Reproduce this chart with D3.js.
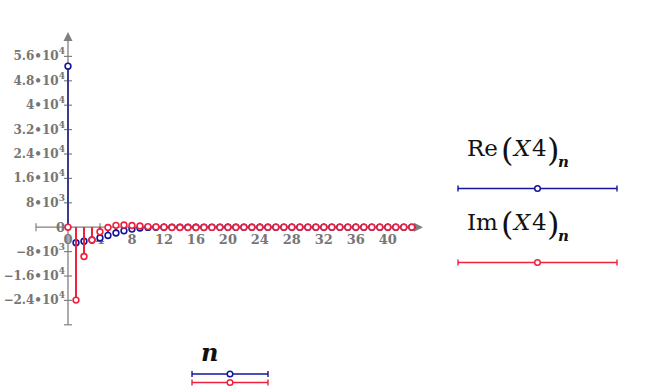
<!DOCTYPE html>
<html>
<head>
<meta charset="utf-8">
<script src="https://cdn.jsdelivr.net/npm/d3@7"></script>
<style>
  body { margin: 0; background: #fff; }
  svg { display: block; }
  .tick-label { font-family: "DejaVu Serif", serif; font-weight: bold; fill: #767676; }
  .math text { font-family: "DejaVu Serif", serif; fill: #111; }
</style>
</head>
<body>
<svg id="chart" width="652" height="390"></svg>
<script>
// sample index n = 0..43
const nValues = d3.range(0, 44);

// Re(X4)_n
const reValues = [52800, -5100, -4600, -4200, -3500, -2700, -1900, -1200, -600, -250,
  -60, 0, 0, 0, 0, 0, 0, 0, 0, 0, 0, 0, 0, 0, 0, 0, 0, 0, 0, 0,
  0, 0, 0, 0, 0, 0, 0, 0, 0, 0, 0, 0, 0, 0];

// Im(X4)_n
const imValues = [0, -23900, -9600, -4200, -1500, -100, 600, 700, 550, 400,
  200, 100, 0, -100, -100, -100, -100, -80, -60, -50, -40, -30, -20, -20, -10, -10, 0, 0, 0, 0,
  0, 0, 0, 0, 0, 0, 0, 0, 0, 0, 0, 0, 0, 0];

const yTicks = [-24000, -16000, -8000, 0, 8000, 16000, 24000, 32000, 40000, 48000, 56000];
const yTickText = ["−2.4•10|4", "−1.6•10|4", "−8•10|3", "0", "8•10|3", "1.6•10|4", "2.4•10|4",
  "3.2•10|4", "4•10|4", "4.8•10|4", "5.6•10|4"];
const xTicks = [0, 4, 8, 12, 16, 20, 24, 28, 32, 36, 40];

const blue = "#14149a";
const blueStem = "#3c3c8c";
const red = "#f0213c";
const gray = "#808080";

const svg = d3.select("#chart");

const x = d3.scaleLinear().domain([-4, 44.4]).range([36, 423]);
const y = d3.scaleLinear().domain([-32000, 64000]).range([324.8, 32]);

// axes
const axisG = svg.append("g");
axisG.append("line").attr("x1", x(-4)).attr("x2", x(44.4) - 6).attr("y1", y(0)).attr("y2", y(0))
  .attr("stroke", gray).attr("stroke-width", 1.3);
axisG.append("line").attr("x1", x(0)).attr("x2", x(0)).attr("y1", y(-32000)).attr("y2", y(64000) + 6)
  .attr("stroke", gray).attr("stroke-width", 1.3);
// arrows
axisG.append("path")
  .attr("d", `M${x(44.4)},${y(0)} l-9,-4.5 l0,9 Z`).attr("fill", gray);
axisG.append("path")
  .attr("d", `M${x(0)},${y(64000)} l-4.5,9 l9,0 Z`).attr("fill", gray);
// end ticks
axisG.append("line").attr("x1", x(-4)).attr("x2", x(-4)).attr("y1", y(0) - 4).attr("y2", y(0) + 4)
  .attr("stroke", gray).attr("stroke-width", 1.2);
axisG.append("line").attr("x1", x(0) - 4).attr("x2", x(0) + 4).attr("y1", y(-32000)).attr("y2", y(-32000))
  .attr("stroke", gray).attr("stroke-width", 1.2);

// y ticks + labels
yTicks.forEach((v, i) => {
  axisG.append("line").attr("x1", x(0) - 4).attr("x2", x(0) + 4).attr("y1", y(v)).attr("y2", y(v))
    .attr("stroke", gray).attr("stroke-width", 1.2);
  const parts = yTickText[i].split("|");
  const t = axisG.append("text").attr("class", "tick-label")
    .attr("x", x(0) - 3).attr("y", y(v) + 4).attr("text-anchor", "end").attr("font-size", 12);
  if (parts.length === 1) {
    t.attr("x", x(0) - 3).attr("font-size", 13).attr("y", y(v) + 5).text(parts[0]);
  } else {
    t.append("tspan").text(parts[0]);
    t.append("tspan").attr("dy", -6).attr("font-size", 9).text(parts[1]);
  }
});

// x ticks + labels
xTicks.forEach(v => {
  axisG.append("line").attr("x1", x(v)).attr("x2", x(v)).attr("y1", y(0) - 4).attr("y2", y(0) + 4)
    .attr("stroke", gray).attr("stroke-width", 1.2);
  axisG.append("text").attr("class", "tick-label")
    .attr("x", x(v)).attr("y", y(0) + 17).attr("text-anchor", "middle").attr("font-size", 13)
    .text(v);
});

// stems and markers
function drawSeries(vals, stemColor, color) {
  const g = svg.append("g");
  g.selectAll("line").data(nValues).join("line")
    .attr("x1", d => x(d)).attr("x2", d => x(d))
    .attr("y1", y(0)).attr("y2", d => y(vals[d]))
    .attr("stroke", stemColor).attr("stroke-width", 2);
  g.selectAll("circle").data(nValues).join("circle")
    .attr("cx", d => x(d)).attr("cy", d => y(vals[d])).attr("r", 2.9)
    .attr("fill", "#fff").attr("stroke", color).attr("stroke-width", 1.6);
}
drawSeries(reValues, blueStem, blue);
drawSeries(imValues, red, red);

// legend swatch: line with end caps and center marker
function swatch(x1, x2, yy, color) {
  const g = svg.append("g");
  g.append("line").attr("x1", x1).attr("x2", x2).attr("y1", yy).attr("y2", yy)
    .attr("stroke", color).attr("stroke-width", 1.6);
  [x1, x2].forEach(xx => g.append("line").attr("x1", xx).attr("x2", xx).attr("y1", yy - 3).attr("y2", yy + 3)
    .attr("stroke", color).attr("stroke-width", 1.4));
  g.append("circle").attr("cx", (x1 + x2) / 2).attr("cy", yy).attr("r", 2.8)
    .attr("fill", "#fff").attr("stroke", color).attr("stroke-width", 1.5);
}

function legendLabel(fn, x0, base) {
  const g = svg.append("g").attr("class", "math");
  g.append("text").attr("x", x0).attr("y", base).attr("font-size", 23).text(fn);
  const px = x0 + 34;
  g.append("text").attr("x", px).attr("y", base + 5).attr("font-size", 32).attr("font-weight", 300)
    .text("(");
  g.append("text").attr("x", px + 13).attr("y", base).attr("font-size", 23)
    .attr("font-style", "italic").text("X");
  g.append("text").attr("x", px + 31).attr("y", base).attr("font-size", 23).text("4");
  g.append("text").attr("x", px + 46).attr("y", base + 5).attr("font-size", 32).attr("font-weight", 300)
    .text(")");
  g.append("text").attr("x", px + 57).attr("y", base + 11).attr("font-size", 15)
    .attr("font-style", "italic").attr("font-weight", "bold").text("n");
}

legendLabel("Re", 467, 156);
swatch(458, 617, 188.5, blue);
legendLabel("Im", 467, 230);
swatch(458, 617, 262.5, red);

// x-axis legend
const nl = svg.append("g").attr("class", "math");
nl.append("text").attr("x", 201).attr("y", 361)
  .attr("font-size", 24).attr("font-style", "italic").attr("font-weight", "bold").text("n");
swatch(192, 268, 374, blue);
swatch(192, 268, 382.5, red);
</script>
</body>
</html>
